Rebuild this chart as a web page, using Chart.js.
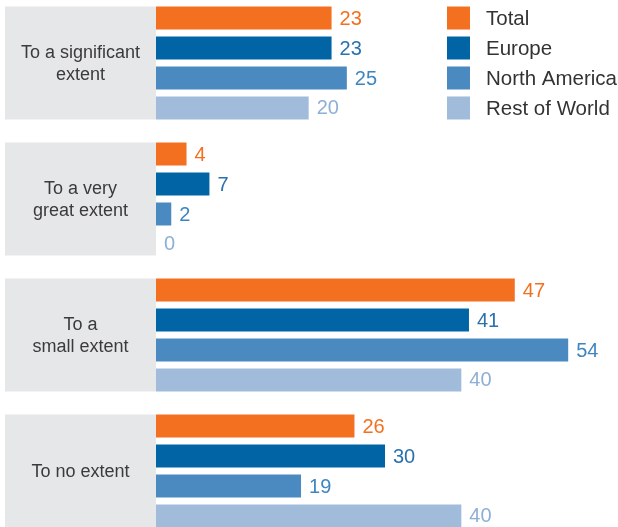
<!DOCTYPE html>
<html>
<head>
<meta charset="utf-8">
<script src="https://cdn.jsdelivr.net/npm/chart.js@4"></script>
<style>
  html, body { margin: 0; padding: 0; background: #fff; overflow: hidden; }
  #wrap { position: absolute; left: 0; top: -5px; width: 618px; height: 544px; }
</style>
</head>
<body>
<div id="wrap"><canvas id="chart"></canvas></div>
<script>
const categories = [
  ['To a significant', 'extent'],
  ['To a very', 'great extent'],
  ['To a', 'small extent'],
  ['To no extent']
];
const seriesNames = ['Total', 'Europe', 'North America', 'Rest of World'];
const totalValues = [23, 4, 47, 26];
const europeValues = [23, 7, 41, 30];
const northAmericaValues = [25, 2, 54, 19];
const restOfWorldValues = [20, 0, 40, 40];

const barColors = ['#f37021', '#0064a5', '#4a8ac0', '#a1bbdb'];
const labelColors = ['#f37021', '#2a71ad', '#3f86c0', '#8eafd6'];
const FONT = '"Liberation Sans", Arial, sans-serif';

// grey boxes, category text, value labels and legend
const decorations = {
  id: 'decorations',
  beforeDatasetsDraw(chart) {
    const ctx = chart.ctx;
    const first = chart.getDatasetMeta(0).data;
    const last = chart.getDatasetMeta(3).data;
    const yScale = chart.scales.y;
    ctx.save();
    categories.forEach((lines, i) => {
      const top = first[i].y - first[i].height / 2;
      const bottom = last[i].y + last[i].height / 2;
      ctx.fillStyle = '#e6e7e9';
      ctx.fillRect(5, top, chart.chartArea.left - 5, bottom - top);
      ctx.fillStyle = '#3b3b3b';
      ctx.font = '18px ' + FONT;
      ctx.textAlign = 'center';
      ctx.textBaseline = 'middle';
      const cy = yScale.getPixelForValue(i) + 1;
      const lh = 22;
      lines.forEach((t, k) => {
        ctx.fillText(t, (5 + chart.chartArea.left) / 2, cy + (k - (lines.length - 1) / 2) * lh);
      });
    });
    ctx.restore();
  },
  afterDatasetsDraw(chart) {
    const ctx = chart.ctx;
    ctx.save();
    ctx.textBaseline = 'middle';
    ctx.textAlign = 'left';
    chart.data.datasets.forEach((ds, d) => {
      const meta = chart.getDatasetMeta(d);
      ctx.font = '20px ' + FONT;
      meta.data.forEach((bar, i) => {
        ctx.fillStyle = labelColors[d];
        ctx.fillText(String(ds.data[i]), bar.x + 8, bar.y + 1);
      });
      // legend rows line up with the first group's bars
      const ref = meta.data[0];
      ctx.fillStyle = barColors[d];
      ctx.fillRect(447, ref.y - ref.height / 2, 23, ref.height);
      ctx.fillStyle = '#333333';
      ctx.font = '20.5px ' + FONT;
      ctx.fillText(ds.label, 486, ref.y + 1);
    });
    ctx.restore();
  }
};

const seriesValues = [totalValues, europeValues, northAmericaValues, restOfWorldValues];

new Chart(document.getElementById('chart'), {
  type: 'bar',
  data: {
    labels: categories,
    datasets: seriesNames.map((name, d) => ({
      label: name,
      data: seriesValues[d],
      backgroundColor: barColors[d],
      borderWidth: 0,
      categoryPercentage: 0.882,
      barPercentage: 0.767
    }))
  },
  options: {
    indexAxis: 'y',
    responsive: true,
    maintainAspectRatio: false,
    animation: false,
    layout: { padding: { left: 156, right: 4, top: 0, bottom: 0 } },
    plugins: { legend: { display: false }, tooltip: { enabled: false } },
    scales: {
      x: { display: false, min: 0, max: 60 },
      y: { display: false }
    }
  },
  plugins: [decorations]
});
</script>
</body>
</html>
